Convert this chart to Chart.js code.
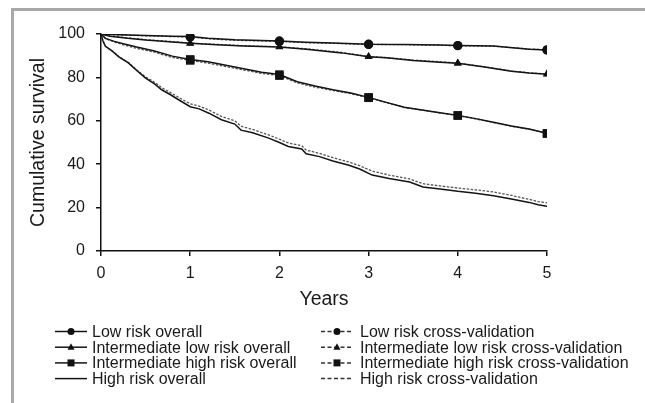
<!DOCTYPE html>
<html>
<head>
<meta charset="utf-8">
<script src="https://cdn.jsdelivr.net/npm/chart.js@4.4.0/dist/chart.umd.min.js"></script>
<style>
html, body { margin: 0; padding: 0; background: #fff; overflow: hidden; }
#wrap { position: relative; width: 645px; height: 403px; }
#km { position: absolute; left: 0; top: 0; }
#frame { position: absolute; left: 11px; top: 8px; width: 700px; height: 500px;
  border-left: 3px solid #a9a9a9; border-top: 3px solid #a9a9a9; pointer-events: none; }
</style>
</head>
<body>
<div id="wrap">
  <canvas id="km" width="645" height="403" style="width:645px;height:403px"></canvas>
  <div id="frame"></div>
</div>
<script>
// tick labels
const yearTicks = [0, 1, 2, 3, 4, 5];
const survivalTicks = [0, 20, 40, 60, 80, 100];
const markYears = [1, 2, 3, 4, 5];

// low risk
const lowT = [0, 0.2, 0.5, 0.8, 1.0, 1.2, 1.5, 1.8, 2.0, 2.3, 2.6, 3.0, 3.4, 3.8, 4.0, 4.4, 4.8, 5.0];
const lowOverall = [100, 99.7, 99.3, 99.0, 98.8, 98.0, 97.3, 97.0, 96.8, 96.2, 95.8, 95.3, 95.2, 94.9, 94.7, 94.5, 93.0, 92.6];
const lowCross = [100, 99.6, 99.2, 98.8, 98.6, 97.8, 97.1, 96.8, 96.6, 96.0, 95.7, 95.2, 95.1, 94.8, 94.6, 94.4, 93.1, 92.7];

// intermediate low risk
const intLowT = [0, 0.1, 0.3, 0.5, 0.8, 1.0, 1.3, 1.6, 2.0, 2.3, 2.7, 3.0, 3.2, 3.5, 3.8, 4.0, 4.3, 4.6, 4.8, 5.0];
const intLowOverall = [100, 99.0, 98.0, 97.2, 96.3, 95.7, 95.0, 94.5, 94.0, 93.0, 91.3, 89.5, 89.0, 87.8, 87.0, 86.5, 84.8, 82.8, 82.0, 81.5];
const intLowCross = [100, 99.1, 98.2, 97.4, 96.5, 95.8, 95.2, 94.6, 94.1, 93.2, 91.5, 89.6, 89.1, 88.0, 87.2, 86.6, 84.9, 83.0, 82.1, 81.6];

// intermediate high risk
const intHighT = [0, 0.05, 0.15, 0.25, 0.4, 0.6, 0.8, 1.0, 1.2, 1.4, 1.6, 1.8, 2.0, 2.2, 2.4, 2.6, 2.8, 3.0, 3.2, 3.4, 3.6, 3.8, 4.0, 4.2, 4.4, 4.6, 4.8, 5.0];
const intHighOverall = [100, 98.0, 96.6, 95.5, 94.0, 92.2, 89.8, 88.3, 87.2, 85.6, 84.0, 82.4, 81.3, 78.0, 76.0, 74.3, 72.8, 70.8, 68.5, 66.2, 65.0, 63.7, 62.5, 61.0, 59.3, 57.6, 56.2, 54.2];
const intHighCross = [100, 97.9, 96.3, 95.0, 93.4, 91.6, 89.2, 87.8, 86.6, 85.0, 83.4, 81.8, 80.8, 77.5, 75.5, 74.0, 72.5, 70.6, 68.3, 66.1, 64.9, 63.6, 62.4, 60.9, 59.2, 57.5, 56.1, 54.1];

// high risk
const highT = [0, 0.02, 0.05, 0.12, 0.2, 0.31, 0.4, 0.5, 0.6, 0.68, 0.78, 0.87, 1.0, 1.1, 1.21, 1.35, 1.5, 1.57, 1.7, 1.88, 2.0, 2.1, 2.25, 2.3, 2.45, 2.6, 2.78, 2.9, 3.04, 3.23, 3.46, 3.61, 3.8, 4.0, 4.2, 4.4, 4.6, 4.8, 4.9, 5.0];
const highOverall = [100, 97, 94.3, 92.3, 89.5, 86.6, 83.2, 79.7, 77, 74.3, 72, 69.7, 66.5, 65.5, 63.5, 60.5, 58.5, 55.7, 54.5, 52, 50, 48.2, 47.0, 44.8, 43.5, 41.5, 39.5, 37.8, 35.0, 33.4, 31.8, 29.5, 28.6, 27.5, 26.6, 25.5, 24, 22.4, 21.3, 20.6];
const highCross = [100, 97, 94.3, 92.3, 89.6, 86.8, 83.5, 80.2, 77.8, 75.3, 73, 70.8, 67.8, 66.8, 65, 62, 60, 57.5, 56, 53.5, 51.5, 49.8, 48.5, 46.5, 45, 43, 41, 39.3, 36.8, 35, 33.2, 31, 30, 29, 28.2, 27.2, 25.6, 23.8, 22.8, 22.2];

const pts = (t, v) => t.map((x, i) => ({ x: x, y: v[i] }));

function series(label, t, v, cross, mark, size) {
    return {
        label: label,
        data: pts(t, v),
        borderColor: cross ? '#555' : '#141414',
        borderWidth: cross ? 1.3 : 1.5,
        borderDash: cross ? [2.5, 1.5] : [],
        legendDash: cross ? [4, 2.5] : [],
        pointStyle: mark || false,
        pointRadius: ctx => (mark && ctx.raw && markYears.includes(ctx.raw.x)) ? size : 0,
        pointHoverRadius: 0,
        pointBackgroundColor: '#111',
        pointBorderColor: '#111',
        pointBorderWidth: 0,
        fill: false,
        tension: 0
    };
}

function drawMark(ctx, style, x, y, r) {
    ctx.fillStyle = '#111';
    ctx.beginPath();
    if (style === 'circle') {
        ctx.arc(x, y, r, 0, Math.PI * 2);
    } else if (style === 'triangle') {
        ctx.moveTo(x, y - r * 1.1);
        ctx.lineTo(x + r, y + r * 0.7);
        ctx.lineTo(x - r, y + r * 0.7);
        ctx.closePath();
    } else if (style === 'rect') {
        ctx.rect(x - r, y - r, 2 * r, 2 * r);
    }
    ctx.fill();
}

// two column legend under the x axis
const kmLegend = {
    id: 'kmLegend',
    afterDraw(chart) {
        const ctx = chart.ctx;
        ctx.save();
        ctx.font = '16px "Liberation Sans", Arial, sans-serif';
        ctx.textBaseline = 'middle';
        chart.data.datasets.forEach((ds, i) => {
            const col = i < 4 ? 0 : 1;
            const row = i % 4;
            const x0 = col ? 321 : 55;
            const y = 331.5 + row * 15.7;
            ctx.strokeStyle = col ? '#333' : '#141414';
            ctx.lineWidth = 1.5;
            ctx.setLineDash(ds.legendDash);
            ctx.beginPath();
            ctx.moveTo(x0, y);
            ctx.lineTo(x0 + 32, y);
            ctx.stroke();
            ctx.setLineDash([]);
            if (ds.pointStyle) drawMark(ctx, ds.pointStyle, x0 + 16, y, 3.5);
            ctx.fillStyle = '#1a1a1a';
            ctx.fillText(ds.label, col ? 360 : 92, y + 1);
        });
        ctx.restore();
    }
};

const axisFont = { family: '"Liberation Sans", Arial, sans-serif', size: 16 };
const titleFont = { family: '"Liberation Sans", Arial, sans-serif', size: 19.5 };

new Chart(document.getElementById('km'), {
    type: 'line',
    data: {
        datasets: [
            series('Low risk overall', lowT, lowOverall, false, 'circle', 4.6),
            series('Intermediate low risk overall', intLowT, intLowOverall, false, 'triangle', 4.6),
            series('Intermediate high risk overall', intHighT, intHighOverall, false, 'rect', 6),
            series('High risk overall', highT, highOverall, false, null, 0),
            series('Low risk cross-validation', lowT, lowCross, true, 'circle', 4.6),
            series('Intermediate low risk cross-validation', intLowT, intLowCross, true, 'triangle', 4.6),
            series('Intermediate high risk cross-validation', intHighT, intHighCross, true, 'rect', 6),
            series('High risk cross-validation', highT, highCross, true, null, 0)
        ]
    },
    options: {
        responsive: false,
        animation: false,
        devicePixelRatio: 1,
        layout: { padding: { left: 0, top: 34, right: 98, bottom: 91 } },
        plugins: { legend: { display: false }, tooltip: { enabled: false } },
        scales: {
            x: {
                type: 'linear',
                min: 0,
                max: 5,
                afterBuildTicks: s => { s.ticks = yearTicks.map(v => ({ value: v })); },
                afterFit: s => { s.height = 61; },
                ticks: { font: axisFont, color: '#1a1a1a', padding: 8 },
                grid: { drawOnChartArea: false, drawTicks: true, tickLength: 5, color: '#111', lineWidth: 1.5 },
                border: { color: '#111', width: 1.5 },
                title: { display: true, text: 'Years', font: titleFont, color: '#1a1a1a', padding: { top: 0, bottom: 1 } }
            },
            y: {
                min: 0,
                max: 100,
                afterBuildTicks: s => { s.ticks = survivalTicks.map(v => ({ value: v })); },
                afterFit: s => { s.width = 101; },
                ticks: { font: axisFont, color: '#1a1a1a', padding: 11 },
                grid: { drawOnChartArea: false, drawTicks: true, tickLength: 5, color: '#111', lineWidth: 1.5 },
                border: { color: '#111', width: 1.5 },
                title: { display: true, text: 'Cumulative survival', font: titleFont, color: '#1a1a1a', padding: { top: 27, bottom: 0 } }
            }
        }
    },
    plugins: [kmLegend]
});
</script>
</body>
</html>
